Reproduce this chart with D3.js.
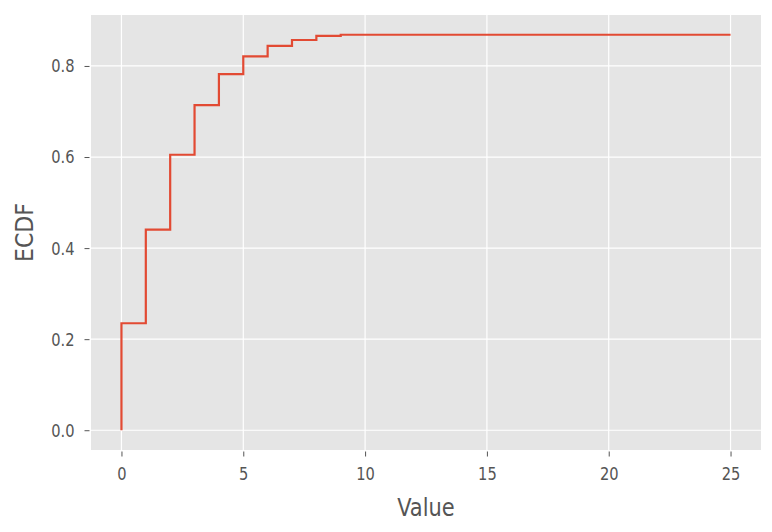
<!DOCTYPE html>
<html><head><meta charset="utf-8">
<script src="https://cdn.jsdelivr.net/npm/d3@7"></script>
<style>
body{margin:0;background:#fff;}
text{font-family:"DejaVu Sans Condensed","DejaVu Sans",sans-serif;font-stretch:condensed;}
</style></head>
<body><svg id="c" width="772" height="532"></svg>
<script>
const xValues = [0, 0, 1, 2, 3, 4, 5, 6, 7, 8, 9, 25];
const ecdfValues = [0, 0.235, 0.4405, 0.605, 0.714, 0.782, 0.821, 0.844, 0.857, 0.866, 0.8685, 0.8685];
const xTicks = [0, 5, 10, 15, 20, 25];
const yTicks = [0, 0.2, 0.4, 0.6, 0.8];
const xLabel = "Value", yLabel = "ECDF";

const svg = d3.select("#c");
const L = 91, R = 761, T = 15, B = 450;
const x = d3.scaleLinear().domain([-1.25, 26.25]).range([L, R]);
const yMax = 0.8685;
const y = d3.scaleLinear().domain([-0.05 * yMax, 1.05 * yMax]).range([B, T]);

svg.append("rect").attr("x", L).attr("y", T).attr("width", R - L).attr("height", B - T).attr("fill", "#E5E5E5");

const g = svg.append("g");
g.selectAll(".gx").data(xTicks).join("line")
  .attr("x1", d => x(d)).attr("x2", d => x(d)).attr("y1", T).attr("y2", B)
  .attr("stroke", "#fff").attr("stroke-width", 1.2);
g.selectAll(".gy").data(yTicks).join("line")
  .attr("y1", d => y(d)).attr("y2", d => y(d)).attr("x1", L).attr("x2", R)
  .attr("stroke", "#fff").attr("stroke-width", 1.2);

const xAxis = d3.axisBottom(x).tickValues(xTicks).tickFormat(d3.format("d")).tickSize(5).tickPadding(10);
const yAxis = d3.axisLeft(y).tickValues(yTicks).tickFormat(d3.format(".1f")).tickSize(5).tickPadding(10);
const ax = svg.append("g").attr("transform", `translate(0,${B + 1.5})`).call(xAxis);
const ay = svg.append("g").attr("transform", `translate(${L - 1.5},0)`).call(yAxis);
[ax, ay].forEach(a => {
  a.select(".domain").remove();
  a.selectAll("line").attr("stroke", "#555").attr("stroke-width", 1);
  a.selectAll("text").attr("fill", "#555").style("font-size", "18.5px").each(function () {
    const w = this.getComputedTextLength();
    this.setAttribute("textLength", w * 0.88);
    this.setAttribute("lengthAdjust", "spacingAndGlyphs");
  });
});

const line = d3.line().x((d, i) => x(xValues[i])).y(d => y(d)).curve(d3.curveStepAfter);
svg.append("path").datum(ecdfValues).attr("d", line)
  .attr("fill", "none").attr("stroke", "#E24A33").attr("stroke-width", 2.2);

svg.append("text").attr("x", (L + R) / 2).attr("y", 516).attr("text-anchor", "middle")
  .attr("fill", "#555").style("font-size", "24.5px").text(xLabel)
  .each(function () { this.setAttribute("textLength", this.getComputedTextLength() * 0.95); this.setAttribute("lengthAdjust", "spacingAndGlyphs"); });
svg.append("text").attr("transform", `translate(33,${(T + B) / 2}) rotate(-90)`).attr("text-anchor", "middle")
  .attr("fill", "#555").style("font-size", "24.5px").text(yLabel);
</script></body></html>
